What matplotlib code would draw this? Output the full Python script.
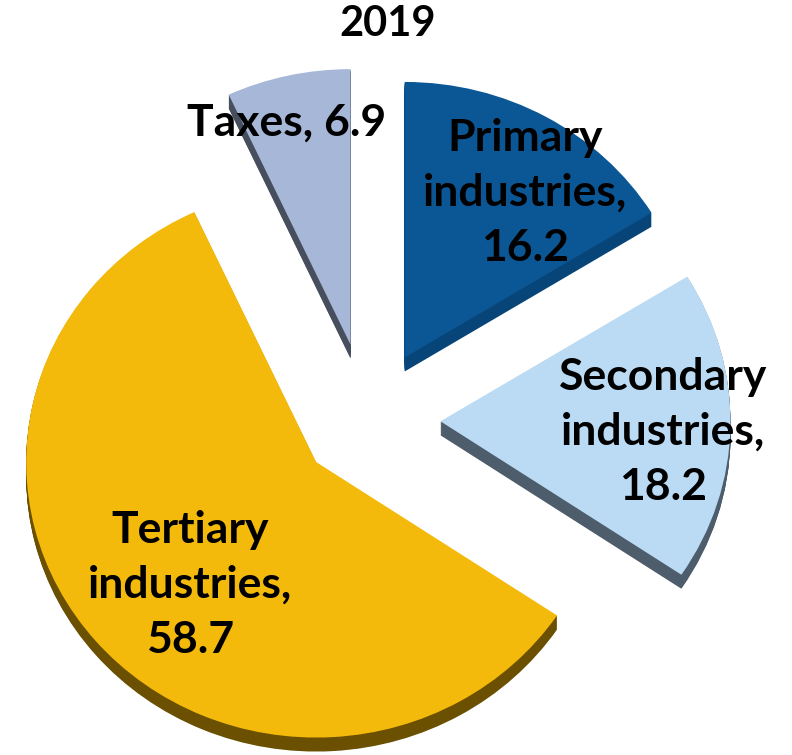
import numpy as np
import matplotlib.pyplot as plt

# GDP composition, 2019 (%)
labels = ['Primary\nindustries', 'Secondary\nindustries', 'Tertiary\nindustries', 'Taxes']
values = [16.2, 18.2, 58.7, 6.9]
title = '2019'

top_colors = ['#0B5795', '#BBDBF4', '#F4BA0B', '#A7B7D8']
side_colors = ['#074579', '#4D5D6B', '#6A5000', '#474F5E']
explode = [0.26, 0.25, 0.235, 0.28]

W, H = 792, 755
R_PX = 290          # pie radius in pixels (horizontal)
SQUASH = 0.95       # vertical tilt of the pie
CX, CY = 368, 420   # pie centre, pixels from top-left
THICK = 14 / (R_PX * SQUASH)

plt.rcParams['font.family'] = ['Lato', 'DejaVu Sans']

fig = plt.figure(figsize=(W / 100, H / 100), dpi=100)
ax = fig.add_axes([0, 0, 1, 1])

# extruded side: stack darker copies below the top face
for dy in np.linspace(THICK, 0, 16, endpoint=False):
    ax.pie(values, explode=explode, colors=side_colors, startangle=90,
           counterclock=False, center=(0, -dy),
           wedgeprops=dict(linewidth=0, antialiased=True))

ax.pie(values, explode=explode, colors=top_colors, startangle=90,
       counterclock=False, wedgeprops=dict(linewidth=0))

ax.set_aspect('auto')
ax.set_xlim(-CX / R_PX, (W - CX) / R_PX)
ax.set_ylim(-(H - CY) / (R_PX * SQUASH), CY / (R_PX * SQUASH))
ax.axis('off')

# label centres in pixels
label_pos = [(525, 193), (663, 432), (190, 585), (287, 123)]
for name, val, (px, py) in zip(labels, values, label_pos):
    txt = f'{name}, {val}' if '\n' not in name else f'{name},\n{val}'
    fig.text(px / W, 1 - py / H, txt, ha='center', va='center',
             fontsize=32, fontweight='bold', color='black', linespacing=1.45)

fig.text(388 / W, 1 - 24 / H, title, ha='center', va='center',
         fontsize=30, fontweight='bold', color='black')

fig.savefig('out.png', dpi=100)
